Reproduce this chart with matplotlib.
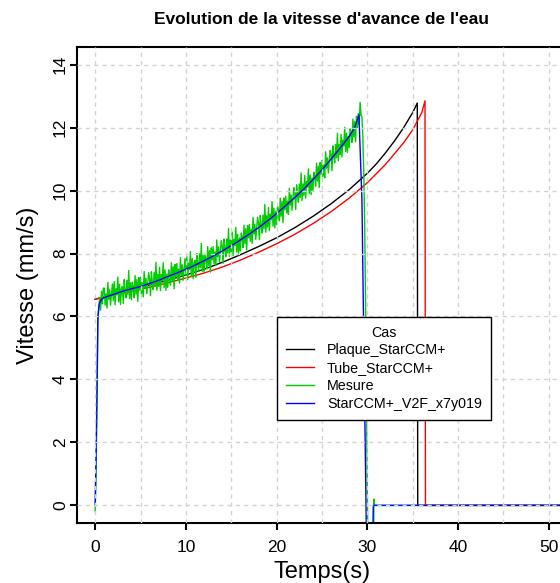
import numpy as np
import matplotlib
matplotlib.use("Agg")
import matplotlib.pyplot as plt

plt.rcParams['font.family'] = ['Liberation Sans', 'DejaVu Sans']

# ---------------- data ----------------
plaque_t = [0, 1, 2, 4, 6, 8, 10, 12, 14, 16, 18, 20, 22, 24, 26, 28, 30, 31, 32, 33, 34, 35, 35.5, 35.55, 52]
plaque_v = [6.55, 6.62, 6.7, 6.85, 7.0, 7.15, 7.32, 7.5, 7.72, 7.96, 8.22, 8.5, 8.82, 9.18, 9.58, 10.03, 10.55, 10.85, 11.2, 11.58, 12.0, 12.48, 12.78, 0.0, 0.0]

tube_t = [0, 2, 4, 6, 8, 10, 12, 14, 16, 18, 20, 22, 24, 26, 28, 30, 32, 34, 35, 36, 36.35, 36.4, 52]
tube_v = [6.55, 6.68, 6.8, 6.93, 7.07, 7.22, 7.38, 7.57, 7.79, 8.04, 8.31, 8.61, 8.95, 9.33, 9.76, 10.25, 10.83, 11.52, 11.93, 12.48, 12.85, 0.0, 0.0]

mesure_step = 0.1
mesure_v = [
    -0.2, 1.0, 3.5, 5.8, 6.3, 6.6, 6.2, 6.8, 6.4, 6.9,
    6.9, 6.36, 6.72, 6.27, 7.08, 6.54, 6.85, 6.36, 6.72, 7.03,
    6.5, 7.11, 6.37, 6.88, 6.69, 7.25, 6.46, 7.02, 6.38, 6.89,
    6.95, 6.41, 7.17, 6.83, 6.59, 7.15, 6.7, 7.46, 6.57, 7.07,
    6.53, 7.09, 6.94, 6.6, 7.3, 6.71, 7.17, 6.48, 7.23, 6.84,
    7.25, 6.71, 7.07, 6.62, 7.43, 6.9, 7.21, 6.72, 7.08, 7.39,
    7.2, 6.66, 7.42, 7.08, 6.85, 7.4, 6.96, 7.72, 6.83, 7.34,
    6.95, 7.56, 6.82, 7.33, 7.14, 7.71, 6.92, 7.48, 6.83, 7.35,
    6.92, 7.48, 7.34, 7.0, 7.71, 7.12, 7.58, 6.88, 7.65, 7.26,
    7.68, 7.14, 7.5, 7.06, 7.87, 7.33, 7.64, 7.15, 7.52, 7.84,
    7.3, 7.91, 7.17, 7.69, 7.5, 8.06, 7.27, 7.84, 7.2, 7.71,
    7.78, 7.24, 8.0, 7.67, 7.43, 7.99, 7.55, 8.32, 7.43, 7.95,
    7.42, 7.98, 7.84, 7.51, 8.22, 7.63, 8.09, 7.41, 8.18, 7.8,
    8.22, 7.68, 8.05, 7.61, 8.43, 7.9, 8.21, 7.72, 8.09, 8.41,
    8.23, 7.69, 8.46, 8.13, 7.9, 8.46, 8.02, 8.79, 7.91, 8.43,
    8.05, 8.67, 7.93, 8.45, 8.26, 8.83, 8.05, 8.61, 7.97, 8.49,
    8.08, 8.65, 8.52, 8.19, 8.9, 8.32, 8.79, 8.11, 8.89, 8.5,
    8.92, 8.39, 8.76, 8.32, 9.15, 8.62, 8.93, 8.45, 8.83, 9.15,
    8.97, 8.44, 9.21, 8.88, 8.65, 9.22, 8.79, 9.56, 8.68, 9.2,
    8.84, 9.46, 8.73, 9.25, 9.07, 9.65, 8.87, 9.44, 8.81, 9.34,
    8.92, 9.49, 9.36, 9.04, 9.76, 9.18, 9.66, 8.98, 9.76, 9.39,
    9.82, 9.29, 9.67, 9.24, 10.07, 9.54, 9.86, 9.38, 9.76, 10.09,
    9.93, 9.4, 10.18, 9.86, 9.63, 10.21, 9.78, 10.56, 9.68, 10.21,
    9.85, 10.48, 9.76, 10.29, 10.11, 10.69, 9.91, 10.49, 9.87, 10.4,
    10.0, 10.58, 10.46, 10.14, 10.87, 10.3, 10.77, 10.1, 10.89, 10.52,
    10.96, 10.44, 10.82, 10.4, 11.23, 10.71, 11.04, 10.56, 10.94, 11.27,
    11.15, 10.63, 11.42, 11.1, 10.88, 11.46, 11.04, 11.82, 10.95, 11.47,
    11.15, 11.79, 11.07, 11.6, 11.42, 12.01, 11.24, 11.82, 11.21, 11.73,
    11.37, 11.96, 11.84, 11.53, 12.27, 11.71, 12.2, 11.55, 12.36, 12.0,
    12.45, 12.1, 12.8, 12.4, 12.35, 11.7, 10.6, 9.0, 6.5, 3.0,
]
mesure_tail_t = [30.05, 30.7, 30.72, 30.8, 52]
mesure_tail_v = [-1.0, -1.0, 0.2, 0.0, 0.0]

v2f_t = [0, 0.1, 0.2, 0.3, 0.45, 0.7, 1, 2, 3, 4, 5, 6, 7, 8, 9, 10, 11, 12, 13, 14, 15, 16, 17, 18, 19, 20,
         21, 22, 23, 24, 25, 26, 27, 28, 28.6, 29.07, 29.4, 29.85, 29.9, 30.6, 30.65, 52]
v2f_v = [0.0, 1.5, 3.5, 6.0, 6.4, 6.55, 6.6, 6.7, 6.8, 6.88, 6.95, 7.05, 7.15, 7.27, 7.38, 7.5, 7.63, 7.77, 7.92,
         8.08, 8.25, 8.43, 8.62, 8.82, 9.04, 9.27, 9.52, 9.78, 10.05, 10.35, 10.66, 11.0, 11.35, 11.72, 12.0,
         12.4, 9.7, 0.0, -1.0, -1.0, 0.0, 0.0]

labels = ["Plaque_StarCCM+", "Tube_StarCCM+", "Mesure", "StarCCM+_V2F_x7y019"]
colors = ["black", "#FF0000", "#00CD00", "#0000FF"]
x_ticks = [0, 10, 20, 30, 40, 50]
y_ticks = [0, 2, 4, 6, 8, 10, 12, 14]

# ---------------- figure ----------------
W, H = 560, 583
fig = plt.figure(figsize=(W / 100, H / 100), dpi=100)
ax_l, ax_r, ax_t, ax_b = 77, 567, 47, 523
ax = fig.add_axes([ax_l / W, 1 - ax_b / H, (ax_r - ax_l) / W, (ax_b - ax_t) / H])

mesure_t = [round(i * mesure_step, 2) for i in range(len(mesure_v))] + mesure_tail_t
mesure_all = mesure_v + mesure_tail_v

lw = 1.0
ax.plot(plaque_t, plaque_v, color=colors[0], lw=lw, label=labels[0], zorder=2)
ax.plot(tube_t, tube_v, color=colors[1], lw=lw, label=labels[1], zorder=2)
ax.plot(mesure_t, mesure_all, color=colors[2], lw=lw, label=labels[2], zorder=2)
ax.plot(v2f_t, v2f_v, color=colors[3], lw=lw, label=labels[3], zorder=2)

ax.set_xlim(-2, 52)
ax.set_ylim(-0.56, 14.56)

# grid (drawn on top like R's grid())
for gx in range(0, 55, 5):
    ax.axvline(gx, color="#D3D3D3", lw=1, ls=(0, (3, 3)), zorder=3)
for gy in y_ticks:
    ax.axhline(gy, color="#D3D3D3", lw=1, ls=(0, (3, 3)), zorder=3)

ax.set_xticks(x_ticks)
ax.set_yticks(y_ticks)
ax.set_xticklabels([str(v) for v in x_ticks], fontsize=12.5)
ax.set_yticklabels([str(v) for v in y_ticks], fontsize=12.5, rotation=90, va='center')
ax.tick_params(axis='both', direction='out', length=5, width=1.5, color='black')
ax.tick_params(axis='x', pad=7.5)
ax.tick_params(axis='y', pad=1.5)
for s in ax.spines.values():
    s.set_linewidth(1.5)

leg = ax.legend(loc='upper left', bbox_to_anchor=((277 - ax_l) / (ax_r - ax_l), 1 - (317 - ax_t) / (ax_b - ax_t)),
                borderaxespad=0, title="Cas", fontsize=10.3, title_fontsize=10.3,
                handlelength=2.0, handletextpad=0.9, labelspacing=0.27, borderpad=0.6,
                fancybox=False, framealpha=1, edgecolor='black')
leg.get_frame().set_linewidth(1.0)
leg.set_zorder(5)

fig.text(322 / W, 1 - 20 / H, "Evolution de la vitesse d'avance de l'eau", ha='center', va='center',
         fontsize=12.5, fontweight='bold')
fig.text(322 / W, 1 - 572 / H, "Temps(s)", ha='center', va='center', fontsize=17)
fig.text(28 / W, 1 - 285 / H, "Vitesse (mm/s)", ha='center', va='center', fontsize=17, rotation=90)

fig.savefig("out.png", dpi=100)
